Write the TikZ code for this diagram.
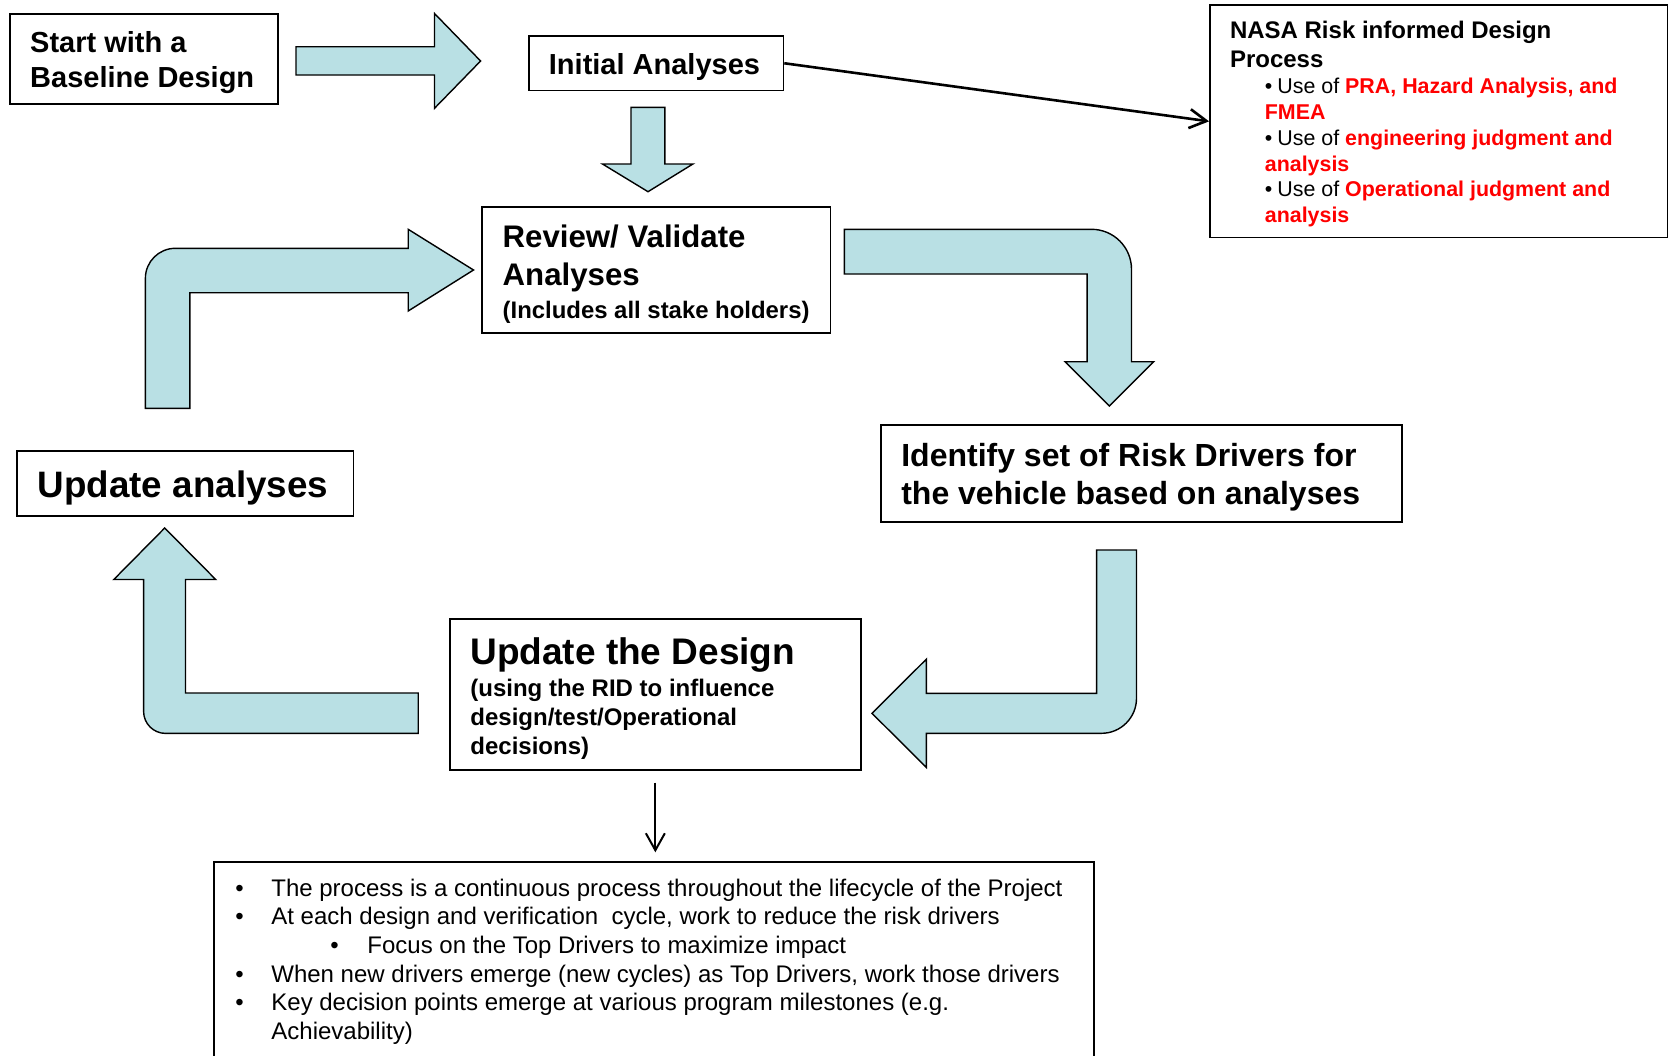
\documentclass[tikz,border=0pt]{standalone}
\usepackage{fontspec}
\setmainfont{Liberation Sans}
\usetikzlibrary{arrows.meta,fit}
\definecolor{arrowfill}{RGB}{185,224,228}
\definecolor{rred}{RGB}{255,0,0}
\begin{document}
\begin{tikzpicture}[x=0.5pt,y=-0.5pt,
  box/.style={draw, line width=0.9pt, inner sep=0pt},
  txt/.style={anchor=base west, inner sep=0pt},
  blockarrow/.style={fill=arrowfill, draw=black, line width=0.7pt, line join=miter},
  fstart/.style={font=\fontsize{14.5pt}{17pt}\selectfont\bfseries},
  freviewt/.style={font=\fontsize{15.6pt}{18pt}\selectfont\bfseries},
  fsub/.style={font=\fontsize{11.95pt}{14pt}\selectfont\bfseries},
  fsubd/.style={font=\fontsize{12pt}{14pt}\selectfont\bfseries},
  fnasat/.style={font=\fontsize{12pt}{14pt}\selectfont\bfseries},
  fnasab/.style={font=\fontsize{10.7pt}{13pt}\selectfont},
  fident/.style={font=\fontsize{16pt}{19pt}\selectfont\bfseries},
  fbig/.style={font=\fontsize{18.4pt}{22pt}\selectfont\bfseries},
  fbigd/.style={font=\fontsize{18.5pt}{22pt}\selectfont\bfseries},
  fnotes/.style={font=\fontsize{12pt}{14pt}\selectfont},
  thinarrow/.style={draw, line width=1.3pt, -{Straight Barb[length=8.5pt,width=9.5pt,line width=1.3pt]}},
  downarrow/.style={draw, line width=1pt, -{Straight Barb[length=8.5pt,width=9.5pt,line width=1pt]}}
]
\useasboundingbox (0,0) rectangle (1669,1055);
\fill[white] (0,0) rectangle (1669,1055);

% ---------- boxes ----------
\node[box, fit={(9.6,13.8) (277.8,104.3)}] (start) {};
\node[box, fit={(529,36) (783.4,90.5)}] (init) {};
\node[box, fit={(482,207.3) (830.5,333.2)}] (review) {};
\node[box, fit={(1210,5.3) (1667.5,237.4)}] (nasa) {};
\node[box, fit={(881.3,424.7) (1401.8,521.6)}] (identify) {};
\node[box, fit={(17,451) (353.4,516.2)}] (updana) {};
\node[box, fit={(450,618.8) (860.7,770)}] (upddes) {};
\node[box, fit={(214,862) (1094.2,1075)}] (notes) {};

% ---------- texts ----------
\node[txt, fstart] (tstarta) at (29.8,52.3) {Start with a};
\node[txt, fstart] (tstartb) at (29.8,87.5) {Baseline Design};

\node[txt, fstart] (tinit) at (548.5,74.5) {Initial Analyses};

\node[txt, freviewt] (treviewa) at (502.3,247.8) {Review/ Validate};
\node[txt, freviewt] (treviewb) at (502.3,285.5) {Analyses};
\node[txt, fsub] (treviewc) at (502.3,318.5) {(Includes all stake holders)};

\node[txt, fnasat] (tnasaa) at (1229.6,38.7) {NASA Risk informed Design};
\node[txt, fnasat] (tnasab) at (1229.6,67.7) {Process};
\node[txt, fnasab] (tnasac) at (1264.5,93.8) {•\hspace{2.5pt}Use of {\bfseries\color{rred}PRA, Hazard Analysis, and}};
\node[txt, fnasab] (tnasad) at (1264.5,119.5) {{\bfseries\color{rred}FMEA}};
\node[txt, fnasab] (tnasae) at (1264.5,145.3) {•\hspace{2.5pt}Use of {\bfseries\color{rred}engineering judgment and}};
\node[txt, fnasab] (tnasaf) at (1264.5,171) {{\bfseries\color{rred}analysis}};
\node[txt, fnasab] (tnasag) at (1264.5,196.7) {•\hspace{2.5pt}Use of {\bfseries\color{rred}Operational judgment and}};
\node[txt, fnasab] (tnasah) at (1264.5,222.4) {{\bfseries\color{rred}analysis}};

\node[txt, fident] (tidenta) at (900.9,466.5) {Identify set of Risk Drivers for};
\node[txt, fident] (tidentb) at (900.9,504) {the vehicle based on analyses};

\node[txt, fbig] (tupdana) at (37.3,497.7) {Update analyses};

\node[txt, fbigd] (tupddesa) at (470,664) {Update the Design};
\node[txt, fsubd] (tupddesb) at (470,696.8) {(using the RID to influence};
\node[txt, fsubd] (tupddesc) at (470,725.5) {design/test/Operational};
\node[txt, fsubd] (tupddesd) at (470,754.2) {decisions)};

\node[txt, fnotes] (bula) at (235,896.1) {•};
\node[txt, fnotes] (tnotesa) at (271,896.1) {The process is a continuous process throughout the lifecycle of the Project};
\node[txt, fnotes] (bulb) at (235,924.8) {•};
\node[txt, fnotes] (tnotesb) at (271,924.8) {At each design and verification\ \ cycle, work to reduce the risk drivers};
\node[txt, fnotes] (bulc) at (330,953.5) {•};
\node[txt, fnotes] (tnotesc) at (367,953.5) {Focus on the Top Drivers to maximize impact};
\node[txt, fnotes] (buld) at (235,982.2) {•};
\node[txt, fnotes] (tnotesd) at (271,982.2) {When new drivers emerge (new cycles) as Top Drivers, work those drivers};
\node[txt, fnotes] (bule) at (235,1010.9) {•};
\node[txt, fnotes] (tnotese) at (271,1010.9) {Key decision points emerge at various program milestones (e.g.};
\node[txt, fnotes] (tnotesf) at (271,1039.6) {Achievability)};

% ---------- block arrows ----------
% start -> initial
\path[blockarrow] (296,46.7) -- (434.5,46.7) -- (434.5,13.5) -- (480.6,61) -- (434.5,108.3) -- (434.5,75) -- (296,75) -- cycle;
% initial -> review
\path[blockarrow] (631,107.3) -- (664.8,107.3) -- (664.8,164) -- (692.9,164) -- (648,191.7) -- (602.5,164) -- (631,164) -- cycle;
% update analyses -> review
\path[blockarrow] (189.8,408.3) -- (145.4,408.3) -- (145.4,278.3) .. controls (145.4,261.7) and (158.8,248.3) .. (175.4,248.3) -- (408.2,248.3) -- (408.2,229.3) -- (473.5,270) -- (408.2,311) -- (408.2,292.7) -- (189.8,292.7) -- cycle;
% review -> identify
\path[blockarrow] (844.3,229.3) -- (1091.5,229.3) .. controls (1113.6,229.3) and (1131.5,247.2) .. (1131.5,269.3) -- (1131.5,361.7) -- (1153.7,361.7) -- (1109.3,406) -- (1065,361.7) -- (1087.1,361.7) -- (1087.1,274) -- (844.3,274) -- cycle;
% identify -> update design
\path[blockarrow] (1096.6,550) -- (1136.5,550) -- (1136.5,698.3) .. controls (1136.5,717.6) and (1120.8,733.3) .. (1101.5,733.3) -- (926.4,733.3) -- (926.4,767.5) -- (872,713.3) -- (926.4,659.1) -- (926.4,693.3) -- (1096.6,693.3) -- cycle;
% update design -> update analyses
\path[blockarrow] (418.2,693) -- (418.2,733.4) -- (165.6,733.4) .. controls (153.45,733.4) and (143.6,723.55) .. (143.6,711.4) -- (143.6,579.5) -- (113.8,579.5) -- (164.7,528) -- (215.7,579.5) -- (185.5,579.5) -- (185.5,693) -- cycle;

% ---------- thin connectors ----------
\draw[thinarrow] (init.east) -- (nasa.west);
\draw[downarrow, shorten <=5.85pt, shorten >=4.4pt] (upddes.south) -- (upddes.south |- notes.north);
\end{tikzpicture}
\end{document}
